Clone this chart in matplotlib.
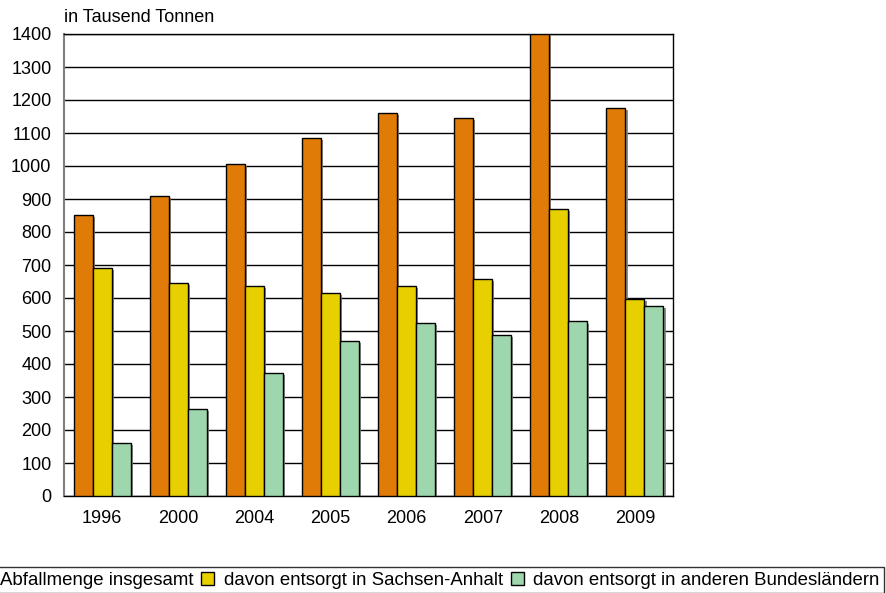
import matplotlib
matplotlib.use('Agg')
import matplotlib.pyplot as plt
import matplotlib.patheffects as pe
import numpy as np

plt.rcParams['font.family'] = ['Liberation Sans', 'DejaVu Sans']

years = ['1996', '2000', '2004', '2005', '2006', '2007', '2008', '2009']
gesamt = [852, 908, 1007, 1086, 1160, 1145, 1400, 1176]
sachsen_anhalt = [690, 645, 636, 616, 636, 658, 869, 598]
andere_laender = [162, 264, 372, 470, 524, 487, 529, 575]

labels = ['Abfallmenge insgesamt', 'davon entsorgt in Sachsen-Anhalt',
          'davon entsorgt in anderen Bundesländern']
colors = ['#E07B08', '#E8D000', '#9ED6AE']

fig = plt.figure(figsize=(8.86, 5.93), dpi=100)
ax = fig.add_axes([64 / 886, 1 - 496 / 593, 609 / 886, 462 / 593])

x = np.arange(len(years))
w = 0.25
shadow = [pe.SimplePatchShadow(offset=(1.5, -1.5), shadow_rgbFace='#808080', alpha=0.9), pe.Normal()]

bars = []
for i, (vals, col) in enumerate(zip([gesamt, sachsen_anhalt, andere_laender], colors)):
    b = ax.bar(x + (i - 1) * w, vals, width=w, color=col, edgecolor='black',
               linewidth=1, zorder=3, label=labels[i])
    for p in b:
        p.set_path_effects(shadow)
    bars.append(b)

ax.set_xlim(-0.5, len(years) - 0.5)
ax.set_ylim(0, 1400)
ax.set_yticks(np.arange(0, 1401, 100))
ax.yaxis.grid(True, color='black', linewidth=1, zorder=0)
ax.set_axisbelow(True)
ax.set_xticks(x)
ax.set_xticklabels(years)
ax.tick_params(axis='y', length=0, pad=9, labelsize=13)
ax.tick_params(axis='x', length=0, pad=10, labelsize=13)
for s in ['top', 'right', 'bottom']:
    ax.spines[s].set_color('black')
    ax.spines[s].set_linewidth(1)
ax.spines['left'].set_color('#808080')
ax.spines['left'].set_linewidth(1.5)

fig.text(64 / 886, 1 - 18 / 593, 'in Tausend Tonnen', fontsize=13, va='center', ha='left')

leg = fig.legend(handles=bars, labels=labels, ncol=3,
                 loc='upper right', bbox_to_anchor=(884 / 886, 1 - 567 / 593),
                 fontsize=13.4, frameon=True, fancybox=False, edgecolor='black',
                 handlelength=0.7, handleheight=0.7, handletextpad=0.5,
                 columnspacing=0.42, borderpad=0.25, borderaxespad=0)
leg.get_frame().set_linewidth(1)
for h in leg.legend_handles:
    h.set_path_effects([])

fig.savefig('out.png', dpi=100)
